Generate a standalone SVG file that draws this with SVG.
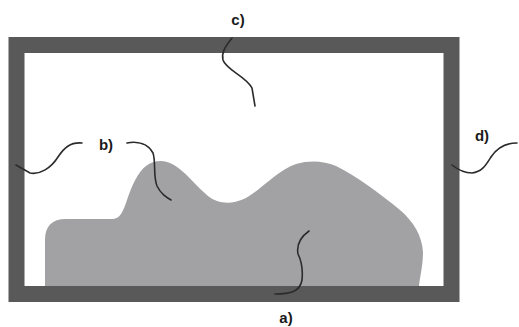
<svg xmlns="http://www.w3.org/2000/svg" width="519" height="327" viewBox="0 0 519 327">
<style>
.lbl{font-family:"Liberation Sans",Arial,sans-serif;font-size:15px;font-weight:bold;fill:#1a1a1a;text-anchor:middle}
.con{fill:none;stroke:#2b2b2b;stroke-width:1.6;stroke-linecap:round}
</style>
<rect width="519" height="327" fill="#ffffff"/>
<g id="material">
<path d="M45,286 L45,240 C45,226 52,219 66,219 L112,219 C120,219 123,212 127,200 C132,185 138,172 146,166 C154,160 164,159 174,165 C186,172 196,186 208,196 C218,204 232,205 246,198 C262,189 278,170 296,164 C310,160 324,161 336,166 C356,176 378,192 400,210 C414,222 422,236 423,252 C423,266 420,276 419,286 Z" fill="#a2a2a4"/>
</g>
<g id="frame">
<rect x="16.5" y="45" width="435" height="249" fill="none" stroke="#595959" stroke-width="16"/>
</g>
<g id="connectors">
<path class="con" d="M232,38 C226,46 221,52 223,60 C226,70 246,76 252,88 L255,106"/>
<path class="con" d="M82,143 C70,142 64,148 58,157 C51,168 40,175 30,173 L16,165"/>
<path class="con" d="M127,143 C138,141 148,144 153,153 C156,162 153,176 157,186 C161,194 166,197 171,200"/>
<path class="con" d="M517,143 C505,143 497,148 491,157 C486,165 482,172 472,173 C463,173 457,169 452,165"/>
<path class="con" d="M275,294 C290,294 300,292 302,280 C303,270 302,262 298,254 C296,243 302,236 309,231"/>
</g>
<g id="labels">
<text class="lbl" x="238" y="25">c)</text>
<text class="lbl" x="106" y="150">b)</text>
<text class="lbl" x="482" y="141">d)</text>
<text class="lbl" x="286" y="323">a)</text>
</g>
</svg>
